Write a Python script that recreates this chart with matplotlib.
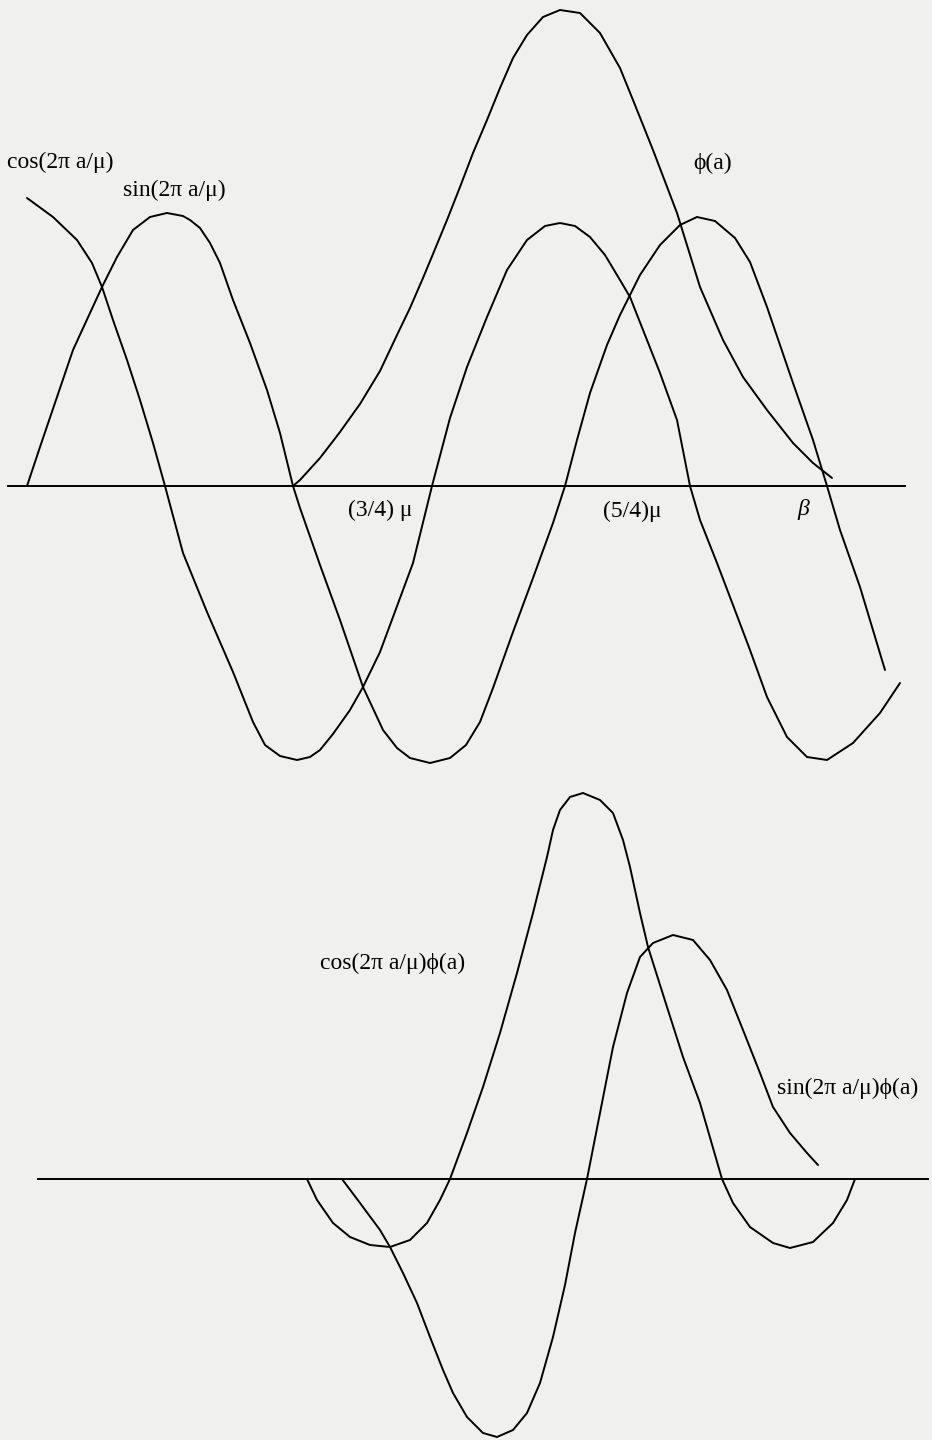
import matplotlib
matplotlib.use("Agg")
import matplotlib.pyplot as plt

plt.rcParams["font.family"] = ["Liberation Serif", "DejaVu Serif"]

# values: x = horizontal position, h = height above the axis line
# top panel
sin_x = [27, 40, 57, 73, 90, 102, 117, 133, 150, 167, 183, 190, 200, 210, 220, 233, 250, 267, 280, 293,
         300, 320, 340, 363, 383, 397, 410, 430, 450, 466, 480, 493, 513, 533, 553, 565,
         577, 590, 607, 620, 640, 660, 680, 697, 715, 735, 750, 767, 793, 813, 827, 840, 860, 885]
sin_h = [0, 39, 89, 136, 173, 199, 229, 256, 269, 273, 270, 266, 258, 243, 223, 186, 143, 96, 53, 0,
         -22, -79, -134, -201, -244, -262, -272, -277, -272, -259, -236, -202, -146, -92, -37, 0,
         46, 93, 141, 171, 211, 241, 261, 269, 265, 248, 224, 179, 103, 46, 0, -44, -101, -184]

cos_x = [27, 53, 77, 92, 102, 113, 127, 140, 153, 165, 183, 207, 233, 253, 265, 280, 297, 310,
         320, 333, 350, 363, 380, 393, 413, 432, 450, 467, 487, 507, 527, 545, 560, 575, 590,
         605, 620, 630, 645, 660, 677, 690, 700, 717, 733, 750, 767, 787, 807, 827, 853, 880, 900]
cos_h = [288, 269, 246, 223, 199, 166, 126, 86, 43, 0, -67, -126, -186, -236, -259, -270, -274, -271,
         -264, -248, -224, -201, -166, -131, -77, 0, 68, 119, 169, 216, 246, 260, 263, 260, 249,
         231, 206, 189, 151, 113, 66, 0, -34, -77, -119, -164, -211, -251, -271, -274, -257, -227, -197]

phi_x = [293, 300, 320, 340, 360, 380, 397, 410, 423, 433, 447, 460, 473, 487, 500, 513, 527,
         543, 560, 580, 600, 620, 633, 653, 677, 700, 723, 743, 767, 793, 813, 832]
phi_h = [0, 6, 28, 54, 82, 115, 151, 178, 208, 232, 266, 299, 333, 366, 398, 428, 451,
         469, 476, 473, 453, 418, 386, 336, 273, 199, 146, 109, 76, 43, 23, 8]

# bottom panel
cosphi_x = [307, 317, 333, 350, 370, 390, 410, 427, 440, 450, 467, 483, 500, 517, 533, 547, 553,
            560, 570, 583, 600, 613, 623, 630, 640, 648, 667, 683, 700, 722, 733, 750, 773, 790,
            813, 833, 847, 855]
cosphi_h = [0, -21, -44, -58, -66, -68, -61, -44, -21, 0, 46, 92, 146, 206, 266, 322, 349,
            369, 382, 386, 379, 366, 339, 312, 266, 232, 172, 122, 76, 0, -24, -48, -64, -69,
            -63, -44, -21, 0]

sinphi_x = [342, 360, 380, 390, 403, 417, 430, 443, 453, 467, 483, 497, 513, 527, 540, 553, 565,
            575, 587, 600, 613, 627, 640, 653, 673, 693, 710, 727, 743, 760, 773, 790, 807, 818]
sinphi_h = [0, -24, -51, -68, -94, -124, -158, -191, -214, -238, -254, -258, -251, -234, -204,
            -158, -106, -54, 0, 66, 132, 186, 222, 236, 244, 239, 219, 189, 149, 106, 72, 46, 26, 14]

top_axis = (8, 905)
bottom_axis = (38, 928)

W, H = 932, 1440
BG = "#f0f0ee"
LW = 1.4

fig = plt.figure(figsize=(W / 100, H / 100), dpi=100, facecolor=BG)

# top panel covers image rows 0..800, axis line at row 486
ax1 = fig.add_axes([0, 1 - 800 / H, 1, 800 / H])
ax1.set_xlim(0, W)
ax1.set_ylim(486 - 800, 486)
# bottom panel covers rows 780..1440, axis line at row 1179
ax2 = fig.add_axes([0, 0, 1, 660 / H])
ax2.set_xlim(0, W)
ax2.set_ylim(1179 - 1440, 1179 - 780)

for ax in (ax1, ax2):
    ax.set_axis_off()
    ax.patch.set_alpha(0)

style = dict(color="k", lw=LW, solid_joinstyle="round", solid_capstyle="round")
ax1.plot(top_axis, [0, 0], color="k", lw=LW)
ax1.plot(sin_x, sin_h, **style)
ax1.plot(cos_x, cos_h, **style)
ax1.plot(phi_x, phi_h, **style)

ax2.plot(bottom_axis, [0, 0], color="k", lw=LW)
ax2.plot(cosphi_x, cosphi_h, **style)
ax2.plot(sinphi_x, sinphi_h, **style)

fs = 17
ax1.text(7, 324, "cos(2π a/μ)", fontsize=fs, ha="left", va="center")
ax1.text(123, 296, "sin(2π a/μ)", fontsize=fs, ha="left", va="center")
ax1.text(693, 323, "ϕ(a)", fontsize=fs, ha="left", va="center")
ax1.text(348, -24, "(3/4) μ", fontsize=fs, ha="left", va="center")
ax1.text(603, -25, "(5/4)μ", fontsize=fs, ha="left", va="center")
ax1.text(797, -24, "β", fontsize=fs, ha="left", va="center", style="italic")

ax2.text(320, 216, "cos(2π a/μ)ϕ(a)", fontsize=fs, ha="left", va="center")
ax2.text(777, 91, "sin(2π a/μ)ϕ(a)", fontsize=fs, ha="left", va="center")

fig.savefig("out.png", dpi=100, facecolor=BG)
